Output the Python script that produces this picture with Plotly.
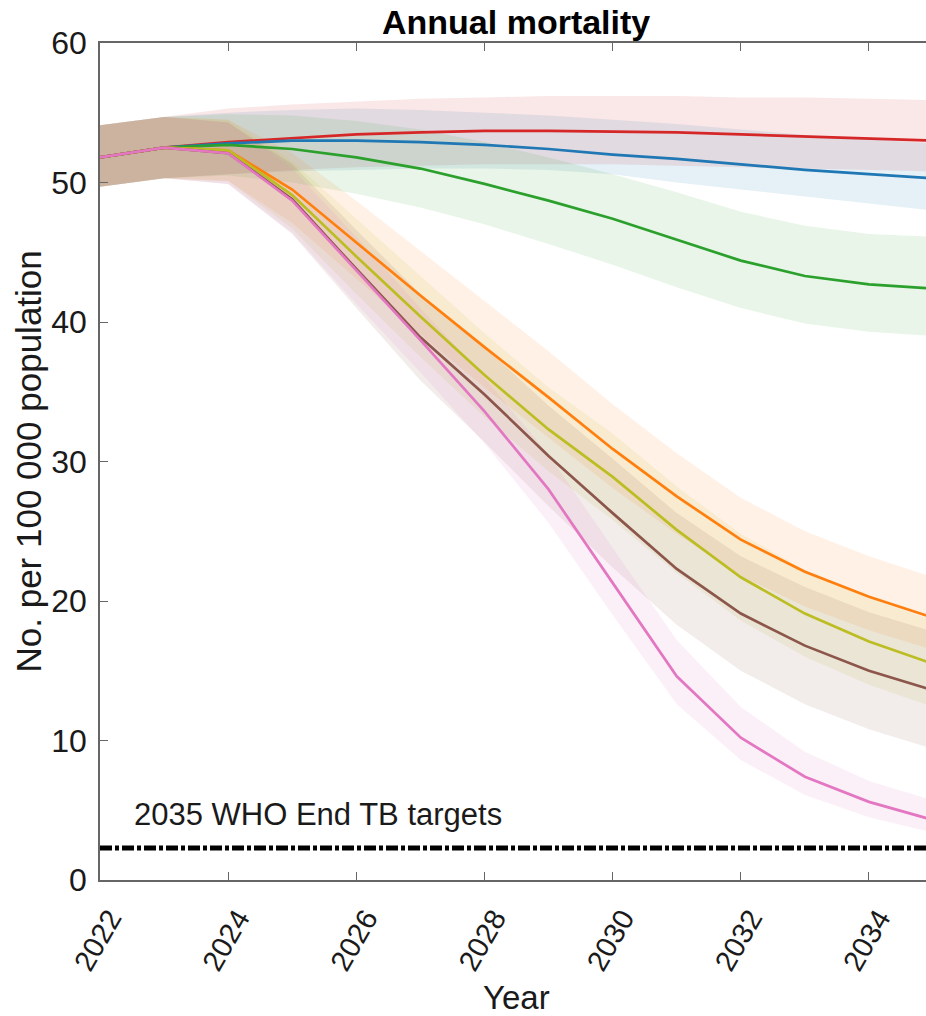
import plotly.graph_objects as go

# Annual TB mortality projections per scenario (median with uncertainty band)
years = list(range(2022, 2036))

red_mid = [51.8, 52.5, 52.9, 53.2, 53.45, 53.6, 53.7, 53.7, 53.65, 53.6, 53.45, 53.3, 53.15, 53.0]
red_lo = [49.7, 50.3, 50.6, 50.9, 51.1, 51.2, 51.3, 51.3, 51.3, 51.2, 51.1, 51.0, 50.9, 50.8]
red_hi = [54.1, 54.7, 55.3, 55.6, 55.8, 56.0, 56.1, 56.2, 56.2, 56.2, 56.1, 56.1, 56.0, 55.9]

blue_mid = [51.8, 52.5, 52.8, 53.0, 53.0, 52.9, 52.7, 52.4, 52.0, 51.7, 51.3, 50.9, 50.6, 50.3]
blue_lo = [49.7, 50.3, 50.6, 50.8, 50.9, 51.0, 51.0, 50.9, 50.6, 50.0, 49.5, 49.0, 48.5, 48.0]
blue_hi = [54.1, 54.7, 55.0, 55.2, 55.3, 55.2, 55.0, 54.8, 54.5, 54.2, 53.8, 53.4, 53.1, 52.8]

green_mid = [51.8, 52.5, 52.7, 52.4, 51.8, 51.0, 49.9, 48.7, 47.4, 45.9, 44.4, 43.3, 42.7, 42.4]
green_lo = [49.7, 50.3, 50.5, 50.0, 49.2, 48.2, 47.0, 45.6, 44.1, 42.5, 41.0, 39.9, 39.3, 39.0]
green_hi = [54.1, 54.7, 54.9, 54.8, 54.4, 53.8, 52.9, 51.8, 50.6, 49.3, 47.9, 46.9, 46.3, 46.1]

orange_mid = [51.8, 52.5, 52.3, 49.5, 45.7, 41.9, 38.2, 34.6, 30.9, 27.5, 24.4, 22.1, 20.3, 18.8]
orange_lo = [49.7, 50.3, 50.1, 47.1, 43.1, 39.1, 35.3, 31.7, 28.1, 24.8, 21.8, 19.6, 17.9, 16.5]
orange_hi = [54.1, 54.7, 54.5, 52.1, 48.7, 45.1, 41.5, 37.9, 34.1, 30.6, 27.4, 25.0, 23.2, 21.7]

olive_mid = [51.8, 52.5, 52.3, 49.1, 44.7, 40.4, 36.2, 32.3, 28.9, 25.1, 21.7, 19.1, 17.1, 15.5]
olive_lo = [49.7, 50.3, 50.1, 46.7, 42.0, 37.5, 33.2, 29.3, 25.8, 22.0, 18.6, 16.0, 14.0, 12.4]
olive_hi = [54.1, 54.7, 54.5, 51.5, 47.4, 43.3, 39.2, 35.3, 32.0, 28.2, 24.8, 22.2, 20.2, 18.6]

brown_mid = [51.8, 52.5, 52.1, 48.8, 43.8, 38.9, 34.8, 30.4, 26.3, 22.3, 19.1, 16.8, 15.0, 13.6]
brown_lo = [49.7, 50.3, 49.9, 46.3, 41.0, 35.8, 31.4, 26.8, 22.4, 18.3, 15.0, 12.6, 10.8, 9.4]
brown_hi = [54.1, 54.7, 54.3, 51.3, 46.6, 42.0, 38.2, 34.0, 30.2, 26.3, 23.2, 21.0, 19.2, 17.8]

pink_mid = [51.8, 52.5, 52.1, 48.7, 43.7, 38.7, 33.6, 28.0, 21.3, 14.6, 10.2, 7.4, 5.6, 4.3]
pink_lo = [49.7, 50.3, 49.9, 46.4, 41.3, 36.4, 31.3, 25.6, 19.0, 12.6, 8.6, 6.1, 4.5, 3.4]
pink_hi = [54.1, 54.7, 54.3, 51.0, 46.1, 41.0, 36.0, 30.5, 23.8, 17.2, 12.4, 9.2, 7.1, 5.7]

target_level = 2.3
target_label = "2035 WHO End TB targets"
tick_years = [2022, 2024, 2026, 2028, 2030, 2032, 2034]

series = [
    ("red", (214, 39, 40), red_mid, red_lo, red_hi),
    ("blue", (31, 119, 180), blue_mid, blue_lo, blue_hi),
    ("green", (44, 160, 44), green_mid, green_lo, green_hi),
    ("orange", (255, 127, 14), orange_mid, orange_lo, orange_hi),
    ("olive", (188, 189, 34), olive_mid, olive_lo, olive_hi),
    ("brown", (140, 86, 75), brown_mid, brown_lo, brown_hi),
    ("pink", (227, 119, 194), pink_mid, pink_lo, pink_hi),
]

FONT = "Liberation Sans, Arial, Helvetica, sans-serif"
AXIS_GREY = "#666"

fig = go.Figure()

# uncertainty bands first so that every median line sits on top
for name, (r, g, b), mid, lo, hi in series:
    fig.add_trace(go.Scatter(x=years, y=lo, mode="lines", line=dict(width=0),
                             showlegend=False, hoverinfo="skip"))
    fig.add_trace(go.Scatter(x=years, y=hi, mode="lines", line=dict(width=0),
                             fill="tonexty", fillcolor=f"rgba({r},{g},{b},0.11)",
                             showlegend=False, hoverinfo="skip"))

for name, (r, g, b), mid, lo, hi in series:
    fig.add_trace(go.Scatter(x=years, y=mid, mode="lines", name=name,
                             line=dict(color=f"rgb({r},{g},{b})", width=2.7),
                             showlegend=False))

# End TB target reference line
fig.add_trace(go.Scatter(x=[2022, 2035], y=[target_level, target_level], mode="lines",
                         line=dict(color="black", width=5, dash="12px,3px,4px,3px"),
                         showlegend=False))

fig.update_layout(
    width=926, height=1016,
    margin=dict(l=100, r=0, t=43, b=136),
    paper_bgcolor="white", plot_bgcolor="white",
    font=dict(family=FONT, color="#1a1a1a"),
    xaxis=dict(range=[2022, 2034.89], tickvals=tick_years, tickangle=-60,
               ticks="inside", ticklen=8, tickcolor=AXIS_GREY, tickwidth=1.2,
               showline=True, linecolor=AXIS_GREY, linewidth=1.5, mirror="ticks",
               showgrid=False, zeroline=False, ticklabelstandoff=8,
               ticklabelshift=10, tickfont=dict(size=29, family=FONT)),
    yaxis=dict(range=[0, 60], dtick=10, ticks="inside", ticklen=8,
               tickcolor=AXIS_GREY, tickwidth=1.2, showline=True, linecolor=AXIS_GREY,
               linewidth=1.5, showgrid=False, zeroline=False, ticklabelstandoff=5,
               tickfont=dict(size=32, family=FONT)),
    annotations=[
        dict(text="<b>Annual mortality</b>", xref="paper", yref="paper",
             x=0.504, y=1, yshift=21, xanchor="center", yanchor="middle",
             showarrow=False, font=dict(size=34, family=FONT, color="black")),
        dict(text="Year", xref="paper", yref="paper", x=0.504, y=0,
             yshift=-117, xanchor="center", yanchor="middle", showarrow=False,
             font=dict(size=33, family=FONT)),
        dict(text="No. per 100 000 population", xref="paper", yref="paper",
             x=0, xshift=-72, y=0.5, textangle=-90, xanchor="center",
             yanchor="middle", showarrow=False, font=dict(size=35, family=FONT)),
        dict(text=target_label, x=2022.5, y=4.7, xanchor="left", yanchor="middle",
             showarrow=False, font=dict(size=31, family=FONT)),
    ],
)

fig.write_html("out.html")
